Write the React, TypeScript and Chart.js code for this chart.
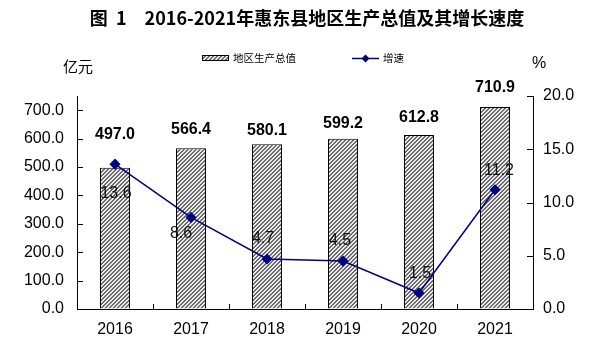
import React, { useEffect, useRef } from "react";
import { Chart, registerables } from "chart.js";

Chart.register(...registerables);

const TITLE = "图  1　2016-2021年惠东县地区生产总值及其增长速度";
const LEFT_UNIT = "亿元";
const RIGHT_UNIT = "%";
const SERIES_BAR = "地区生产总值";
const SERIES_LINE = "增速";

const years = ["2016", "2017", "2018", "2019", "2020", "2021"];
const gdpValues = [497.0, 566.4, 580.1, 599.2, 612.8, 710.9];
const growthValues = [13.6, 8.6, 4.7, 4.5, 1.5, 11.2];

const leftAxis = { min: 0, max: 750, step: 100 };
const rightAxis = { min: 0, max: 20, step: 5 };

// style-only: label placement relative to marks
const barLabelGap = [33, 19, 14, 15, 17, 20];
const growthLabelOffset: [number, number][] = [
  [1, 29],
  [-10, 16],
  [-4, -20],
  [-3, -20],
  [1, -19],
  [4, -19],
];

const NUM_FONT = "'Liberation Sans', Arial, sans-serif";
const CJK_FONT = "'Noto Sans CJK SC', 'Liberation Sans', sans-serif";
const LINE_COLOR = "#000080";

function makeHatch(ctx: CanvasRenderingContext2D): CanvasPattern | string {
  const c = document.createElement("canvas");
  c.width = 4;
  c.height = 4;
  const cx = c.getContext("2d");
  if (!cx) return "#999";
  const img = cx.createImageData(4, 4);
  for (let y = 0; y < 4; y++) {
    for (let x = 0; x < 4; x++) {
      const i = (y * 4 + x) * 4;
      const on = (x + y) % 4 < 2;
      const v = on ? 108 : 235;
      img.data[i] = v;
      img.data[i + 1] = v;
      img.data[i + 2] = v;
      img.data[i + 3] = 255;
    }
  }
  cx.putImageData(img, 0, 0);
  return ctx.createPattern(c, "repeat") || "#999";
}

export default function App() {
  const ref = useRef<HTMLCanvasElement | null>(null);

  useEffect(() => {
    document.body.style.margin = "0";
    const canvas = ref.current;
    if (!canvas) return;
    const ctx0 = canvas.getContext("2d");
    if (!ctx0) return;
    const hatch = makeHatch(ctx0);

    const overlay = {
      id: "overlay",
      afterDatasetsDraw(chart: any) {
        const ctx = chart.ctx as CanvasRenderingContext2D;
        ctx.save();
        // bar value labels
        const barMeta = chart.getDatasetMeta(0);
        ctx.font = `bold 16px ${NUM_FONT}`;
        ctx.fillStyle = "#000";
        ctx.textAlign = "center";
        ctx.textBaseline = "middle";
        barMeta.data.forEach((el: any, i: number) => {
          ctx.fillText(gdpValues[i].toFixed(1), el.x, el.y - barLabelGap[i]);
        });
        // growth labels
        const lineMeta = chart.getDatasetMeta(1);
        ctx.font = `16px ${NUM_FONT}`;
        ctx.fillStyle = "#111";
        lineMeta.data.forEach((el: any, i: number) => {
          const [dx, dy] = growthLabelOffset[i];
          ctx.fillText(growthValues[i].toFixed(1), el.x + dx, el.y + dy);
        });
        ctx.restore();
      },
      afterDraw(chart: any) {
        const ctx = chart.ctx as CanvasRenderingContext2D;
        const a = chart.chartArea;
        const yl = chart.scales.y;
        const yr = chart.scales.y1;
        ctx.save();
        // inside tick marks
        ctx.strokeStyle = "#000";
        ctx.lineWidth = 1;
        ctx.beginPath();
        yl.ticks.forEach((t: any) => {
          const py = Math.round(yl.getPixelForValue(t.value)) + 0.5;
          ctx.moveTo(a.left, py);
          ctx.lineTo(a.left + 6, py);
        });
        yr.ticks.forEach((t: any) => {
          const py = Math.round(yr.getPixelForValue(t.value)) + 0.5;
          ctx.moveTo(a.right - 6, py);
          ctx.lineTo(a.right, py);
        });
        const n = years.length;
        const cw = (a.right - a.left) / n;
        for (let i = 1; i < n; i++) {
          const px = Math.round(a.left + cw * i) + 0.5;
          ctx.moveTo(px, a.bottom);
          ctx.lineTo(px, a.bottom - 5);
        }
        ctx.stroke();

        // title
        ctx.fillStyle = "#000";
        ctx.font = `bold 18px ${CJK_FONT}`;
        ctx.textAlign = "center";
        ctx.textBaseline = "middle";
        ctx.fillText(TITLE, 307, 18);

        // axis units
        ctx.font = `15px ${CJK_FONT}`;
        ctx.textAlign = "left";
        ctx.fillText(LEFT_UNIT, 63, 66);
        ctx.font = `16px ${NUM_FONT}`;
        ctx.fillText(RIGHT_UNIT, 532, 64);

        // legend: bar
        ctx.fillStyle = hatch as any;
        ctx.fillRect(202, 55, 27, 6);
        ctx.strokeStyle = "#000";
        ctx.strokeRect(202.5, 55.5, 26, 5);
        ctx.fillStyle = "#000";
        ctx.font = `10.5px ${CJK_FONT}`;
        ctx.textBaseline = "middle";
        ctx.fillText(SERIES_BAR, 233, 58);
        // legend: line
        ctx.strokeStyle = LINE_COLOR;
        ctx.lineWidth = 1.5;
        ctx.beginPath();
        ctx.moveTo(352, 58.5);
        ctx.lineTo(379, 58.5);
        ctx.stroke();
        ctx.fillStyle = LINE_COLOR;
        ctx.beginPath();
        ctx.moveTo(365.5, 54.5);
        ctx.lineTo(369.5, 58.5);
        ctx.lineTo(365.5, 62.5);
        ctx.lineTo(361.5, 58.5);
        ctx.closePath();
        ctx.fill();
        ctx.fillStyle = "#000";
        ctx.fillText(SERIES_LINE, 383, 58);
        ctx.restore();
      },
    };

    const chart = new Chart(canvas, {
      type: "bar",
      data: {
        labels: years,
        datasets: [
          {
            type: "bar",
            label: SERIES_BAR,
            data: gdpValues,
            yAxisID: "y",
            backgroundColor: hatch as any,
            borderColor: "#000",
            borderWidth: 1,
            barPercentage: 0.395,
            categoryPercentage: 1,
            order: 2,
          },
          {
            type: "line",
            label: SERIES_LINE,
            data: growthValues,
            yAxisID: "y1",
            borderColor: LINE_COLOR,
            backgroundColor: LINE_COLOR,
            borderWidth: 1.5,
            pointStyle: "rectRot",
            pointRadius: 4.5,
            pointBackgroundColor: LINE_COLOR,
            pointBorderColor: LINE_COLOR,
            tension: 0,
            order: 1,
          } as any,
        ],
      },
      options: {
        responsive: false,
        animation: false,
        layout: { padding: { top: 96, left: 0, right: 0, bottom: 0 } },
        plugins: {
          legend: { display: false },
          title: { display: false },
          tooltip: { enabled: false },
        },
        scales: {
          x: {
            grid: { display: true, drawOnChartArea: false, drawTicks: false },
            border: { display: true, color: "#000", width: 1 },
            ticks: {
              color: "#000",
              font: { family: NUM_FONT, size: 16 },
              padding: 11,
            },
            afterFit: (s: any) => {
              s.height = 46;
            },
          },
          y: {
            position: "left",
            min: leftAxis.min,
            max: leftAxis.max,
            grid: { display: true, drawOnChartArea: false, drawTicks: false },
            border: { display: true, color: "#000", width: 1 },
            ticks: {
              stepSize: leftAxis.step,
              includeBounds: false,
              color: "#000",
              font: { family: NUM_FONT, size: 16 },
              padding: 13,
              callback: (v: any) => Number(v).toFixed(1),
            },
            afterFit: (s: any) => {
              s.width = 77;
            },
          },
          y1: {
            position: "right",
            min: rightAxis.min,
            max: rightAxis.max,
            grid: { display: true, drawOnChartArea: false, drawTicks: false },
            border: { display: true, color: "#000", width: 1 },
            ticks: {
              stepSize: rightAxis.step,
              color: "#000",
              font: { family: NUM_FONT, size: 16 },
              padding: 10,
              callback: (v: any) => Number(v).toFixed(1),
            },
            afterFit: (s: any) => {
              s.width = 62;
            },
          },
        },
      },
      plugins: [overlay],
    });

    return () => {
      chart.destroy();
    };
  }, []);

  return (
    <div style={{ width: 595, height: 355 }}>
      <canvas ref={ref} width={595} height={355} style={{ display: "block" }} />
    </div>
  );
}
